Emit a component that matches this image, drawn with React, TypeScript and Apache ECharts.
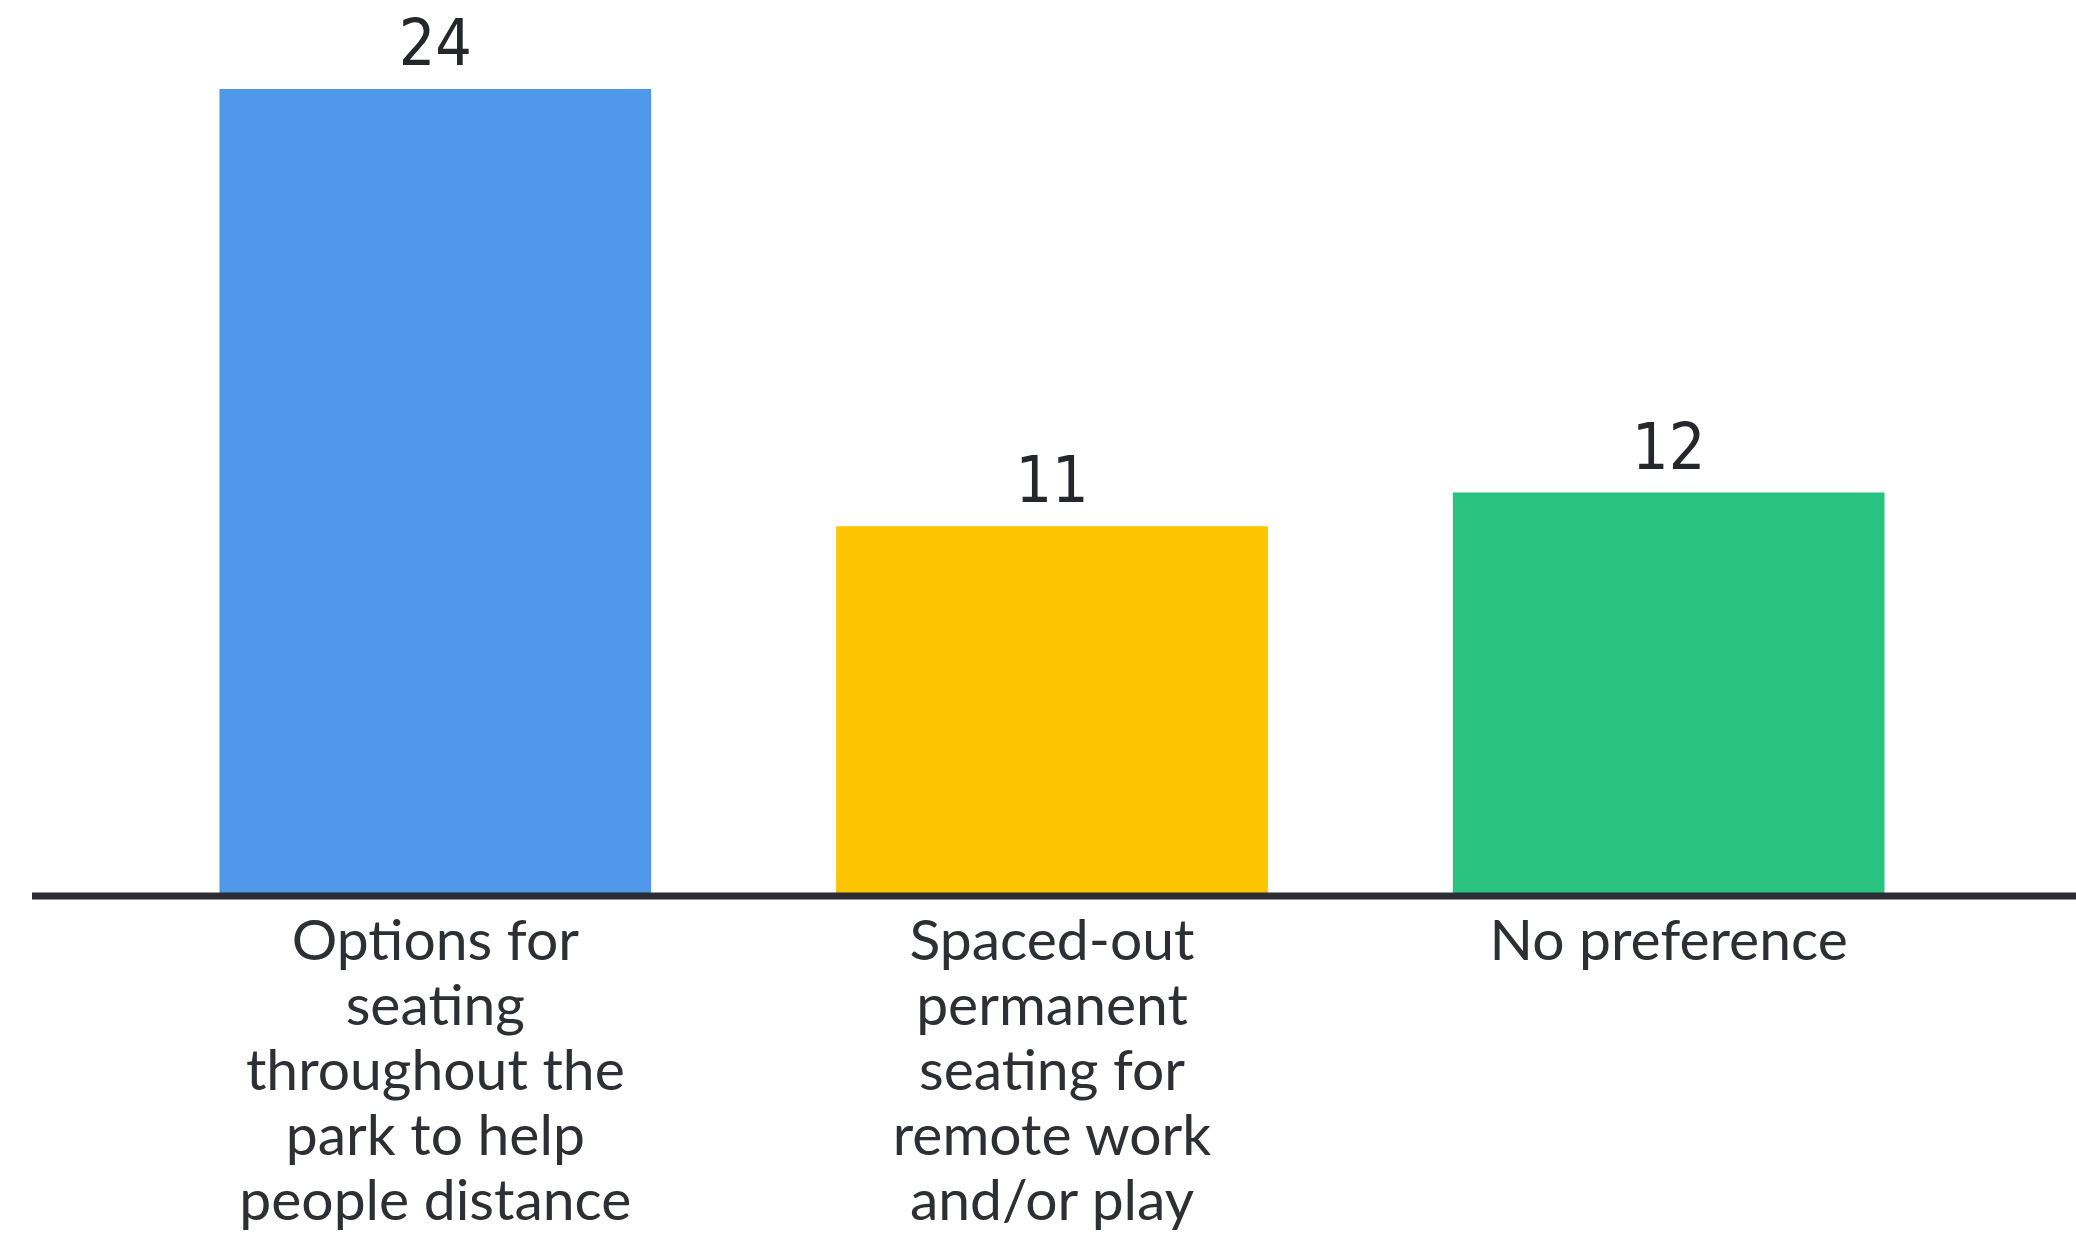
import React, { useEffect, useRef } from "react";
import * as echarts from "echarts";

const categories = [
  "Options for\nseating\nthroughout the\npark to help\npeople distance",
  "Spaced-out\npermanent\nseating for\nremote work\nand/or play",
  "No preference",
];
const values = [24, 11, 12];
const barColors = ["#4F98EA", "#FDC400", "#29C27F"];

export default function App() {
  const ref = useRef<HTMLDivElement>(null);
  useEffect(() => {
    if (!ref.current) return;
    const chart = echarts.init(ref.current, null, { renderer: "svg" });
    chart.setOption({
      animation: false,
      backgroundColor: "#ffffff",
      grid: { left: 127, right: 99, top: 89, bottom: 343 },
      xAxis: {
        type: "category",
        data: categories,
        axisLine: { show: false },
        axisTick: { show: false },
        axisLabel: {
          interval: 0,
          margin: 9,
          color: "#2d2f33",
          fontFamily: "Lato",
          fontSize: 57,
          lineHeight: 65,
        },
      },
      yAxis: {
        type: "value",
        min: 0,
        max: 24,
        show: false,
        splitLine: { show: false },
      },
      graphic: [
        {
          type: "line",
          shape: { x1: 32, y1: 896, x2: 2076, y2: 896 },
          style: { stroke: "#2a2d33", lineWidth: 7 },
          z: 100,
        },
      ],
      series: [
        {
          type: "bar",
          barWidth: "70%",
          data: values.map((v, i) => ({ value: v, itemStyle: { color: barColors[i] } })),
          label: {
            show: true,
            position: "top",
            distance: 14,
            color: "#25272b",
            fontFamily: "'Liberation Sans Narrow', 'DejaVu Sans Condensed', 'Liberation Sans'",
            fontSize: 64,
          },
        },
      ],
    });
    return () => chart.dispose();
  }, []);
  return (
    <div
      ref={ref}
      style={{ position: "fixed", left: 0, top: 0, width: 2076, height: 1239 }}
    />
  );
}
